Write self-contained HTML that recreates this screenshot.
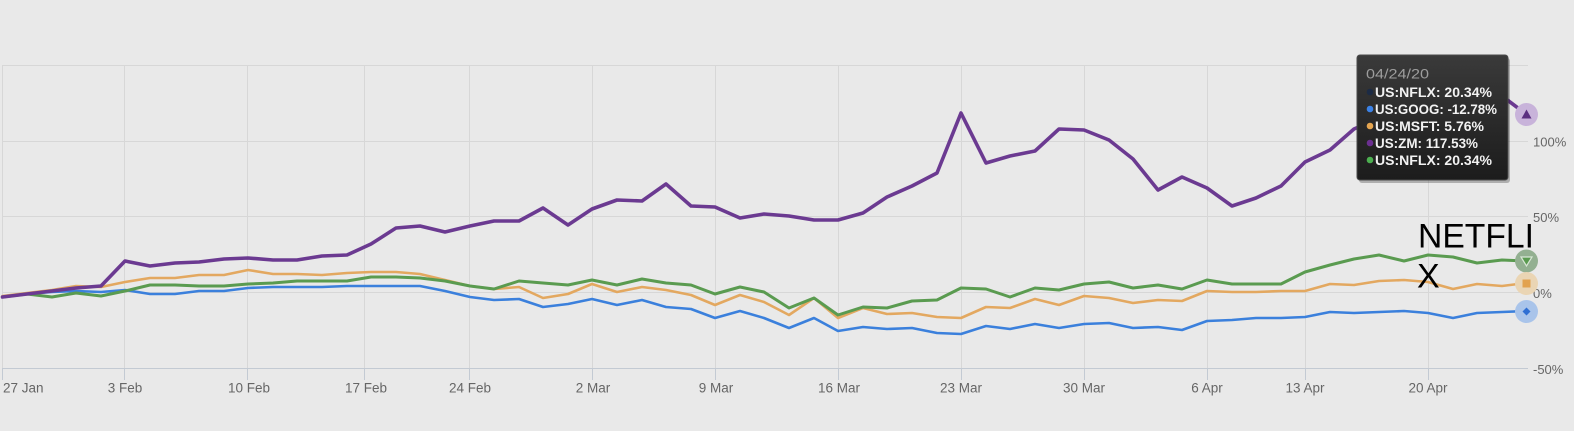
<!DOCTYPE html>
<html><head><meta charset="utf-8"><style>
html,body{margin:0;padding:0;background:#e9e9e9;}
svg{display:block;}
</style></head><body>
<svg width="1574" height="431" viewBox="0 0 1574 431" xmlns="http://www.w3.org/2000/svg" font-family="'Liberation Sans', sans-serif">
<defs>
<linearGradient id="tg" x1="0" y1="0" x2="0" y2="1"><stop offset="0" stop-color="#3a3a3a"/><stop offset="1" stop-color="#1c1c1c"/></linearGradient>
</defs>
<rect x="0" y="0" width="1574" height="431" fill="#e9e9e9"/>
<!-- horizontal grid -->
<g stroke="#d7d7d7" stroke-width="1">
<line x1="2" y1="65.5" x2="1528" y2="65.5"/>
<line x1="2" y1="141.5" x2="1528" y2="141.5"/>
<line x1="2" y1="216.5" x2="1528" y2="216.5"/>
<line x1="2" y1="292.5" x2="1528" y2="292.5"/>
</g>
<!-- vertical grid -->
<g stroke="#d7d7d7" stroke-width="1">
<line x1="2.5" y1="65" x2="2.5" y2="368"/>
<line x1="124.5" y1="65" x2="124.5" y2="368"/>
<line x1="247.5" y1="65" x2="247.5" y2="368"/>
<line x1="364.5" y1="65" x2="364.5" y2="368"/>
<line x1="469.5" y1="65" x2="469.5" y2="368"/>
<line x1="592.5" y1="65" x2="592.5" y2="368"/>
<line x1="715.5" y1="65" x2="715.5" y2="368"/>
<line x1="838.5" y1="65" x2="838.5" y2="368"/>
<line x1="961.5" y1="65" x2="961.5" y2="368"/>
<line x1="1084.5" y1="65" x2="1084.5" y2="368"/>
<line x1="1207.5" y1="65" x2="1207.5" y2="368"/>
<line x1="1305.5" y1="65" x2="1305.5" y2="368"/>
<line x1="1428.5" y1="65" x2="1428.5" y2="368"/>
</g>
<!-- axis line and ticks -->
<g stroke="#c3cad3" stroke-width="1">
<line x1="2" y1="368.5" x2="1528" y2="368.5"/>
<line x1="2.5" y1="368" x2="2.5" y2="380"/>
<line x1="124.5" y1="368" x2="124.5" y2="380"/>
<line x1="247.5" y1="368" x2="247.5" y2="380"/>
<line x1="364.5" y1="368" x2="364.5" y2="380"/>
<line x1="469.5" y1="368" x2="469.5" y2="380"/>
<line x1="592.5" y1="368" x2="592.5" y2="380"/>
<line x1="715.5" y1="368" x2="715.5" y2="380"/>
<line x1="838.5" y1="368" x2="838.5" y2="380"/>
<line x1="961.5" y1="368" x2="961.5" y2="380"/>
<line x1="1084.5" y1="368" x2="1084.5" y2="380"/>
<line x1="1207.5" y1="368" x2="1207.5" y2="380"/>
<line x1="1305.5" y1="368" x2="1305.5" y2="380"/>
<line x1="1428.5" y1="368" x2="1428.5" y2="380"/>
</g>
<!-- x labels -->
<g fill="#666" font-size="13.5" text-anchor="middle">
<text x="3" y="392.5" text-anchor="start">27 Jan</text>
<text x="125" y="392.5">3 Feb</text>
<text x="249" y="392.5">10 Feb</text>
<text x="366" y="392.5">17 Feb</text>
<text x="470" y="392.5">24 Feb</text>
<text x="593" y="392.5">2 Mar</text>
<text x="716" y="392.5">9 Mar</text>
<text x="839" y="392.5">16 Mar</text>
<text x="961" y="392.5">23 Mar</text>
<text x="1084" y="392.5">30 Mar</text>
<text x="1207" y="392.5">6 Apr</text>
<text x="1305" y="392.5">13 Apr</text>
<text x="1428" y="392.5">20 Apr</text>
</g>
<!-- y labels -->
<g fill="#666" font-size="13">
<text x="1533" y="146.5">100%</text>
<text x="1533" y="222">50%</text>
<text x="1533" y="298">0%</text>
<text x="1533" y="374">-50%</text>
</g>
<!-- series -->
<g fill="none" stroke-linejoin="round" stroke-linecap="round">
<polyline stroke="#3b80dc" stroke-width="2.6" points="2.5,297 27,294 52,292 76,291 101,292 125,290 150,294 175,294 199,291 224,291 248,288 273,287 297,287 322,287 347,286 371,286 396,286 420,286 445,291 470,297 494,300 519,299 543,307 568,304 592,299 617,305 642,300 666,307 691,309 715,318 740,311 764,318 789,328 814,318 838,331 863,327 887,329 912,328 937,333 961,334 986,326 1010,329 1035,324 1059,328 1084,324 1109,323 1133,328 1158,327 1182,330 1207,321 1232,320 1256,318 1281,318 1305,317 1330,312 1354,313 1379,312 1404,311 1428,313 1453,318 1477,313 1502,312 1526,311"/>
<polyline stroke="#e3a860" stroke-width="2.6" points="2.5,296 27,293 52,290 76,286 101,287 125,282 150,278 175,278 199,275 224,275 248,270 273,274 297,274 322,275 347,273 371,272 396,272 420,274 445,280 470,286 494,289 519,287 543,298 568,294 592,284 617,292 642,287 666,290 691,295 715,305 740,295 764,302 789,315 814,298 838,318 863,308 887,314 912,313 937,317 961,318 986,307 1010,308 1035,299 1059,305 1084,296 1109,298 1133,303 1158,300 1182,301 1207,291 1232,292 1256,292 1281,291 1305,291 1330,284 1354,285 1379,281 1404,280 1428,282 1453,289 1477,284 1502,286 1526,283"/>
<polyline stroke="#5a9b50" stroke-width="3" points="2.5,297 27,294 52,297 76,293 101,296 125,291 150,285 175,285 199,286 224,286 248,284 273,283 297,281 322,281 347,281 371,277 396,277 420,278 445,281 470,286 494,289 519,281 543,283 568,285 592,280 617,285 642,279 666,283 691,285 715,294 740,287 764,292 789,308 814,298 838,315 863,307 887,308 912,301 937,300 961,288 986,289 1010,297 1035,288 1059,290 1084,284 1109,282 1133,288 1158,285 1182,289 1207,280 1232,284 1256,284 1281,284 1305,272 1330,265 1354,259 1379,255 1404,261 1428,255 1453,257 1477,263 1502,260 1526,261"/>
<polyline stroke="#6b3a91" stroke-width="3.6" points="2.5,297 27,294 52,291 76,288 101,286 125,261 150,266 175,263 199,262 224,259 248,258 273,260 297,260 322,256 347,255 371,244 396,228 420,226 445,232 470,226 494,221 519,221 543,208 568,225 592,209 617,200 642,201 666,184 691,206 715,207 740,218 764,214 789,216 814,220 838,220 863,213 887,197 912,186 937,173 961,113 986,163 1010,156 1035,151 1059,129 1084,130 1109,140 1133,159 1158,190 1182,177 1207,188 1232,206 1256,198 1281,186 1305,162 1330,150 1354,129 1379,118 1404,108 1428,100 1453,96 1477,92 1502,96 1526,114"/>
</g>
<!-- end markers -->
<circle cx="1526.5" cy="114.5" r="11.5" fill="#c8b3da"/>
<polygon points="1526.5,109.5 1531.5,118.5 1521.5,118.5" fill="#5b2f80"/>
<circle cx="1526.5" cy="261" r="11.5" fill="#93b091"/>
<polygon points="1521,257 1532,257 1526.5,266" fill="#5a9b50" stroke="#d8e6d5" stroke-width="1.2"/>
<circle cx="1526.5" cy="283.5" r="11.5" fill="#ead5b4"/>
<rect x="1522.5" y="279.5" width="8" height="8" fill="#e2a24f"/>
<circle cx="1526.5" cy="311.5" r="11.5" fill="#a9c4ea"/>
<polygon points="1526.5,307.5 1530.5,311.5 1526.5,315.5 1522.5,311.5" fill="#2f6fd3"/>
<!-- NETFLIX label -->
<g fill="#000" font-size="34">
<text x="1418" y="247.5" textLength="116" lengthAdjust="spacingAndGlyphs">NETFLI</text>
<text x="1417" y="287.5">X</text>
</g>
<!-- tooltip -->
<rect x="1359" y="58" width="151" height="125" rx="3" fill="#000" opacity="0.25"/>
<rect x="1357" y="55" width="151" height="125" rx="3" fill="url(#tg)" stroke="#4a4a4a" stroke-width="1"/>
<text x="1366" y="78.5" fill="#9d9d9d" font-size="14" textLength="63" lengthAdjust="spacingAndGlyphs">04/24/20</text>
<circle cx="1370" cy="92" r="3.3" fill="#1c2b45"/>
<circle cx="1370" cy="109" r="3.3" fill="#3b82e6"/>
<circle cx="1370" cy="126" r="3.3" fill="#e5a550"/>
<circle cx="1370" cy="143" r="3.3" fill="#6b2f91"/>
<circle cx="1370" cy="160" r="3.3" fill="#4caf50"/>
<g fill="#f2f2f2" font-size="13.5" font-weight="bold">
<text x="1375" y="97" textLength="117" lengthAdjust="spacingAndGlyphs">US:NFLX: 20.34%</text>
<text x="1375" y="114" textLength="122" lengthAdjust="spacingAndGlyphs">US:GOOG: -12.78%</text>
<text x="1375" y="131" textLength="109" lengthAdjust="spacingAndGlyphs">US:MSFT: 5.76%</text>
<text x="1375" y="148" textLength="103" lengthAdjust="spacingAndGlyphs">US:ZM: 117.53%</text>
<text x="1375" y="165" textLength="117" lengthAdjust="spacingAndGlyphs">US:NFLX: 20.34%</text>
</g>
</svg>
</body></html>
